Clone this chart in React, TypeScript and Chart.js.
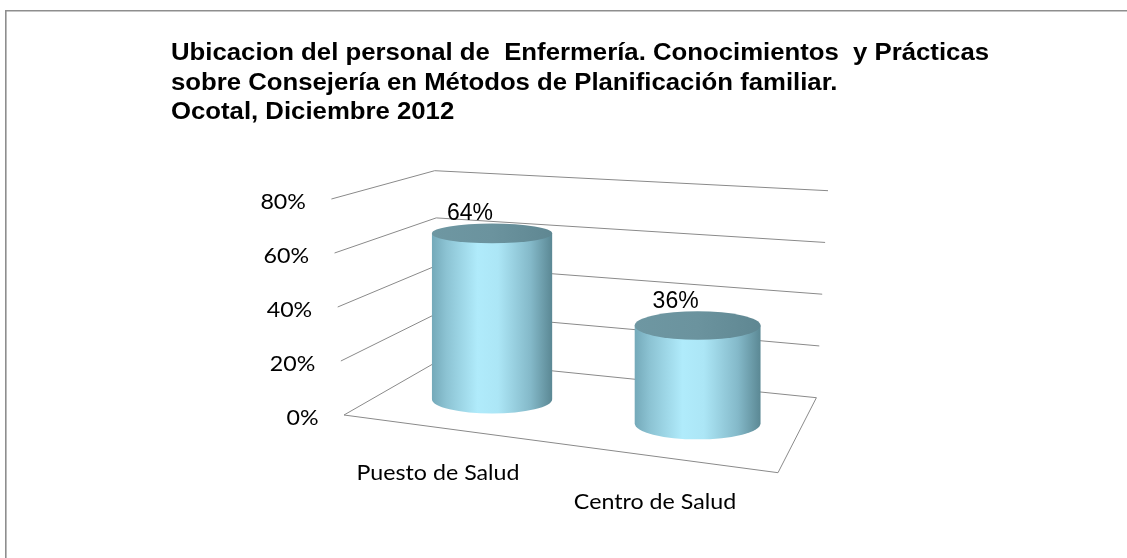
import React, { useEffect, useRef } from 'react';
import { Chart, registerables } from 'chart.js';

Chart.register(...registerables);

// ---------- data ----------
const TITLE_LINES = [
  'Ubicacion del personal de  Enfermería. Conocimientos  y Prácticas',
  'sobre Consejería en Métodos de Planificación familiar.',
  'Ocotal, Diciembre 2012',
];
const CATEGORIES = ['Puesto de Salud', 'Centro de Salud'];
const VALUES = [64, 36];
const Y_TICKS = [0, 20, 40, 60, 80];
const Y_MIN = 0;
const Y_MAX = 80;

type Pt = { x: number; y: number };

function lerp(a: Pt, b: Pt, t: number): Pt {
  return { x: a.x + (b.x - a.x) * t, y: a.y + (b.y - a.y) * t };
}

// 3D box corners, defined relative to the chart area (styling / perspective)
function boxCorners(ca: any) {
  const L = ca.left, R = ca.right, T = ca.top, B = ca.bottom;
  return {
    FL0: { x: L, y: B },
    FR0: { x: R, y: B + 57.7 },
    BL0: { x: L + 96.7, y: B - 55.5 },
    BR0: { x: R + 38.4, y: B - 17.3 },
    FL1: { x: L - 12.6, y: T },
    FR1: { x: R + 14, y: T + 37 },
    BL1: { x: L + 90.7, y: T - 28.3 },
    BR1: { x: R + 50, y: T - 8.3 },
  };
}

function makeProj(ca: any) {
  const c = boxCorners(ca);
  return (u: number, d: number, v: number): Pt => {
    const f0 = lerp(c.FL0, c.FR0, u);
    const b0 = lerp(c.BL0, c.BR0, u);
    const f1 = lerp(c.FL1, c.FR1, u);
    const b1 = lerp(c.BL1, c.BR1, u);
    const p0 = lerp(f0, b0, d);
    const p1 = lerp(f1, b1, d);
    return lerp(p0, p1, v);
  };
}

function fitFill(ctx: CanvasRenderingContext2D, text: string, x: number, y: number, sx: number, align: 'left' | 'center' | 'right') {
  const w = ctx.measureText(text).width * sx;
  let x0 = x;
  if (align === 'center') x0 = x - w / 2;
  else if (align === 'right') x0 = x - w;
  ctx.save();
  ctx.translate(x0, y);
  ctx.scale(sx, 1);
  ctx.textAlign = 'left';
  ctx.fillText(text, 0, 0);
  ctx.restore();
}

const AXIS_FONT = '22px Lato';
const TITLE_FONT = 'bold 23px "Liberation Sans"';
const LABEL_FONT = '23px "Liberation Sans"';

const scene3d = {
  id: 'scene3d',
  beforeDatasetsDraw(chart: any) {
    const ctx: CanvasRenderingContext2D = chart.ctx;
    const ca = chart.chartArea;
    const P = makeProj(ca);
    const yScale = chart.scales.y;
    const xScale = chart.scales.x;
    const H = ca.bottom - ca.top;

    ctx.save();
    // outer frame (top + left)
    ctx.strokeStyle = '#8e8e8e';
    ctx.lineWidth = 1.6;
    ctx.beginPath();
    ctx.moveTo(5.8, chart.height);
    ctx.lineTo(5.8, 10.8);
    ctx.lineTo(chart.width, 10.8);
    ctx.stroke();

    // title
    ctx.fillStyle = '#000';
    ctx.font = TITLE_FONT;
    ctx.textBaseline = 'alphabetic';
    const sxT = 818 / ctx.measureText(TITLE_LINES[0]).width;
    const baselines = [60, 89.5, 119];
    TITLE_LINES.forEach((t, i) => fitFill(ctx, t, 171, baselines[i], sxT, 'left'));

    // gridlines (walls + floor)
    ctx.strokeStyle = '#8a8a8a';
    ctx.lineWidth = 1;
    Y_TICKS.forEach((t) => {
      const v = (ca.bottom - yScale.getPixelForValue(t)) / H;
      const a = P(0, 0, v), b = P(0, 1, v), c = P(1, 1, v);
      ctx.beginPath();
      ctx.moveTo(a.x, a.y);
      ctx.lineTo(b.x, b.y);
      ctx.lineTo(c.x, c.y);
      if (t === Y_MIN) {
        const d = P(1, 0, v);
        ctx.lineTo(d.x, d.y);
        ctx.closePath();
      }
      ctx.stroke();
    });

    // y tick labels
    ctx.font = AXIS_FONT;
    const sxA = 163 / ctx.measureText(CATEGORIES[0]).width;
    ctx.fillStyle = '#000';
    Y_TICKS.forEach((t) => {
      const v = (ca.bottom - yScale.getPixelForValue(t)) / H;
      const a = P(0, 0, v);
      fitFill(ctx, t + '%', a.x - 25.5, a.y + 10, sxA, 'right');
    });

    // category labels
    CATEGORIES.forEach((lab, i) => {
      const u = (xScale.getPixelForValue(i) - ca.left) / (ca.right - ca.left);
      const a = P(u, 0, 0);
      fitFill(ctx, lab, a.x - 14.5, a.y + 51, sxA, 'center');
    });
    ctx.restore();
  },
  afterDatasetsDraw(chart: any) {
    const ctx: CanvasRenderingContext2D = chart.ctx;
    const ca = chart.chartArea;
    const P = makeProj(ca);
    const W = ca.right - ca.left;
    const H = ca.bottom - ca.top;
    const meta = chart.getDatasetMeta(0);
    const data = chart.data.datasets[0].data;

    ctx.save();
    meta.data.forEach((el: any, i: number) => {
      const u = (el.x - ca.left) / W;
      const v = (ca.bottom - el.y) / H;
      const Tc = P(u, 0.5, v);
      const Bc = P(u, 0.5, 0);
      const cx = (Tc.x + Bc.x) / 2;
      const localH = P(u, 0.5, 0).y - P(u, 0.5, 1).y;
      const w = 0.29 * localH;
      const eh = (vv: number) => {
        const uy = (P(u + 0.01, 0.5, vv).y - P(u - 0.01, 0.5, vv).y) / 0.02;
        const dy = P(u, 0, vv).y - P(u, 1, vv).y;
        return Math.sqrt((0.145 * uy) ** 2 + (0.23 * dy) ** 2);
      };
      const ht = eh(v);
      const hb = eh(0) * 0.92;

      // body
      const g = ctx.createLinearGradient(cx - w, 0, cx + w, 0);
      g.addColorStop(0, '#74a9b9');
      g.addColorStop(0.12, '#8cc3d3');
      g.addColorStop(0.38, '#b0ebfb');
      g.addColorStop(0.55, '#ace6f6');
      g.addColorStop(0.82, '#84b9c9');
      g.addColorStop(1, '#5b8894');
      ctx.fillStyle = g;
      ctx.beginPath();
      ctx.moveTo(cx - w, Tc.y);
      ctx.lineTo(cx - w, Bc.y);
      ctx.ellipse(cx, Bc.y, w, hb, 0, Math.PI, 0, true);
      ctx.lineTo(cx + w, Tc.y);
      ctx.closePath();
      ctx.fill();

      // top cap
      const gt = ctx.createLinearGradient(cx - w, 0, cx + w, 0);
      gt.addColorStop(0, '#6e97a2');
      gt.addColorStop(0.5, '#6b939e');
      gt.addColorStop(1, '#5f8792');
      ctx.fillStyle = gt;
      ctx.beginPath();
      ctx.ellipse(cx, Tc.y, w, ht, 0, 0, Math.PI * 2);
      ctx.fill();

      // value label
      ctx.fillStyle = '#000';
      ctx.font = LABEL_FONT;
      ctx.textBaseline = 'alphabetic';
      ctx.textAlign = 'center';
      ctx.fillText(data[i] + '%', cx - 22, Tc.y - ht - 3);
    });
    ctx.restore();
  },
};

export default function App() {
  const ref = useRef<HTMLCanvasElement | null>(null);
  useEffect(() => {
    if (!ref.current) return;
    const chart = new Chart(ref.current, {
      type: 'bar',
      data: {
        labels: CATEGORIES,
        datasets: [
          {
            data: VALUES,
            backgroundColor: 'rgba(0,0,0,0)',
            borderWidth: 0,
          },
        ],
      },
      options: {
        responsive: false,
        animation: false,
        devicePixelRatio: 1,
        layout: { padding: { left: 344, right: 349, top: 199, bottom: 143 } },
        plugins: {
          legend: { display: false },
          title: { display: false },
          tooltip: { enabled: false },
        },
        scales: {
          x: { type: 'category', display: false, offset: true },
          y: { display: false, min: Y_MIN, max: Y_MAX },
        },
      },
      plugins: [scene3d],
    });
    return () => chart.destroy();
  }, []);
  return (
    <div style={{ position: 'fixed', left: 0, top: 0, width: 1127, height: 558, background: '#fff' }}>
      <canvas ref={ref} width={1127} height={558} style={{ display: 'block' }} />
    </div>
  );
}
